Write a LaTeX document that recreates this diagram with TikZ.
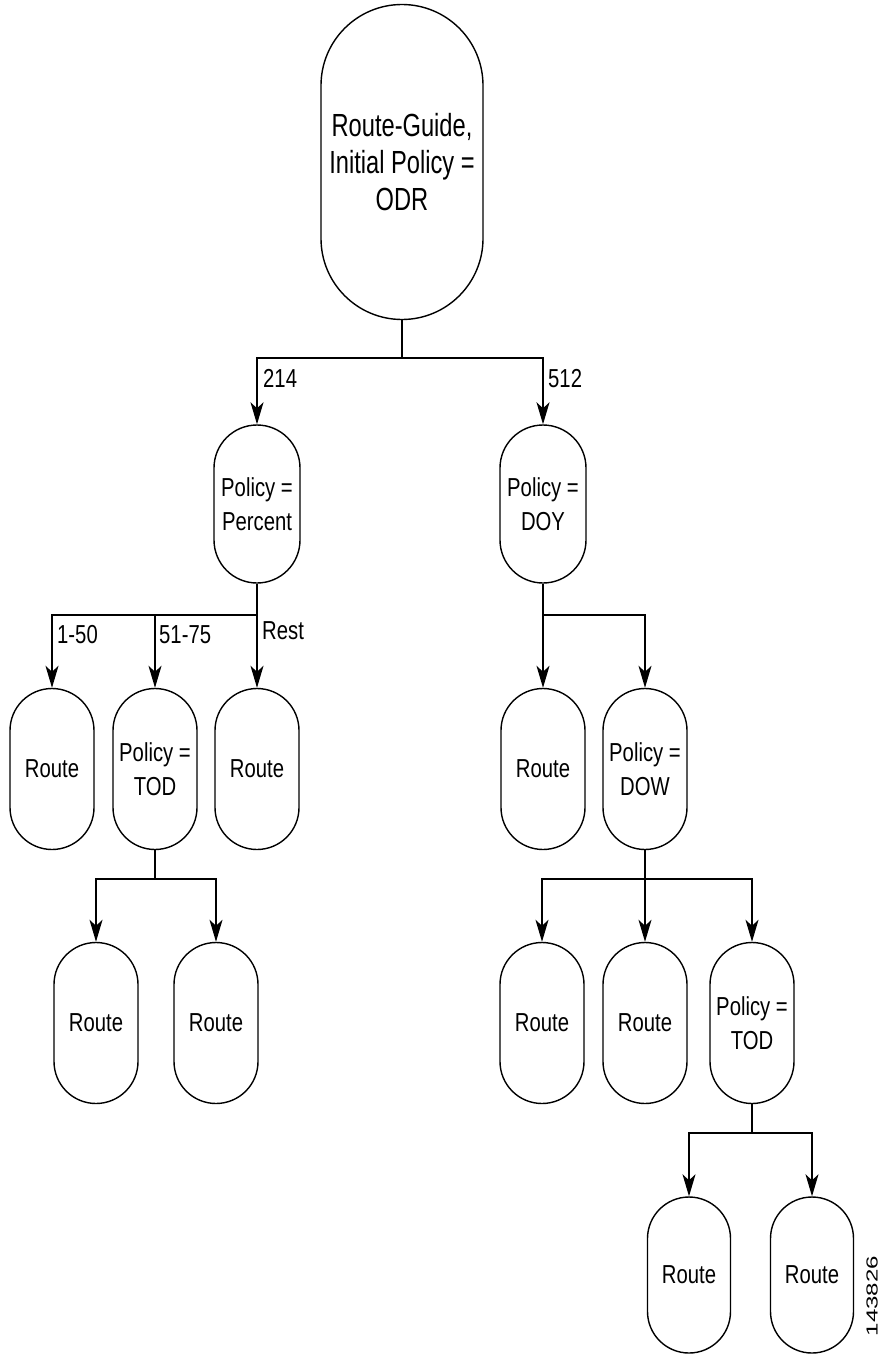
\documentclass[tikz,border=0pt]{standalone}
\usepackage{fontspec}
\setmainfont{Liberation Sans}
\newfontfamily\nodefont[FakeStretch=0.78]{Liberation Sans}
\newfontfamily\headfont[FakeStretch=0.74]{Liberation Sans}
\newfontfamily\idfont[FakeStretch=1.5]{Liberation Sans}
\usetikzlibrary{arrows.meta}
\begin{document}
\begin{tikzpicture}[x=1pt,y=-1pt,
  stad/.style={draw, line width=1.4pt, rectangle, inner sep=0pt, align=center,
    font=\nodefont\fontsize{26}{34}\selectfont},
  lvltwo/.style={stad, minimum width=86pt, minimum height=158pt, rounded corners=43pt},
  lvl/.style={stad, minimum width=84pt, minimum height=161pt, rounded corners=42pt},
  lvlfive/.style={stad, minimum width=83pt, minimum height=156pt, rounded corners=41.5pt},
  conn/.style={line width=1.4pt},
  arr/.style={conn, -{Stealth[length=22pt,width=13pt,inset=6pt]}},
  lbl/.style={anchor=base west, inner sep=0pt, font=\nodefont\fontsize{26}{30}\selectfont}
]
\useasboundingbox (0,0) rectangle (883,1359);

% nodes
\node[stad, minimum width=162pt, minimum height=315pt, rounded corners=81pt,
  font=\headfont\fontsize{32}{37}\selectfont] (root) at (402,162) {Route-Guide,\\Initial Policy =\\ODR};

\node[lvltwo] (pct) at (257,504) {Policy =\\Percent};
\node[lvltwo] (doy) at (543,504) {Policy =\\DOY};

\node[lvl] (r1) at (52,769) {Route};
\node[lvl] (tod1) at (155,769) {Policy =\\TOD};
\node[lvl] (r2) at (257,769) {Route};
\node[lvl] (r3) at (543,769) {Route};
\node[lvl] (dow) at (645,769) {Policy =\\DOW};

\node[lvl] (r4) at (96,1023) {Route};
\node[lvl] (r5) at (216,1023) {Route};
\node[lvl] (r6) at (542,1023) {Route};
\node[lvl] (r7) at (645,1023) {Route};
\node[lvl] (tod2) at (752,1023) {Policy =\\TOD};

\node[lvlfive] (r8) at (689,1275) {Route};
\node[lvlfive] (r9) at (812,1275) {Route};

% junctions
\coordinate (j0) at (402,358);
\coordinate (j1) at (257,615);
\coordinate (j2) at (543,615);
\coordinate (j3) at (155,879);
\coordinate (j4) at (645,879);
\coordinate (j5) at (752,1133);

% connectors
\draw[conn] (root.south) -- (j0);
\draw[arr] (j0) -| (pct.north);
\draw[arr] (j0) -| (doy.north);

\draw[conn] (pct.south) -- (j1);
\draw[arr] (j1) -| (r1.north);
\draw[arr] (j1) -| (tod1.north);
\draw[arr] (j1) -- (r2.north);

\draw[conn] (doy.south) -- (j2);
\draw[arr] (j2) -- (r3.north);
\draw[arr] (j2) -| (dow.north);

\draw[conn] (tod1.south) -- (j3);
\draw[arr] (j3) -| (r4.north);
\draw[arr] (j3) -| (r5.north);

\draw[conn] (dow.south) -- (j4);
\draw[arr] (j4) -| (r6.north);
\draw[arr] (j4) -- (r7.north);
\draw[arr] (j4) -| (tod2.north);

\draw[conn] (tod2.south) -- (j5);
\draw[arr] (j5) -| (r8.north);
\draw[arr] (j5) -| (r9.north);

% labels
\node[lbl] (l214) at (263,387) {214};
\node[lbl] (l512) at (548,387) {512};
\node[lbl] (l150) at (57,643) {1-50};
\node[lbl] (l5175) at (159,643) {51-75};
\node[lbl] (lrest) at (262,639) {Rest};

\node[rotate=90, inner sep=0pt, font=\idfont\fontsize{16}{18}\selectfont] (fig) at (872,1296) {143826};
\end{tikzpicture}
\end{document}
